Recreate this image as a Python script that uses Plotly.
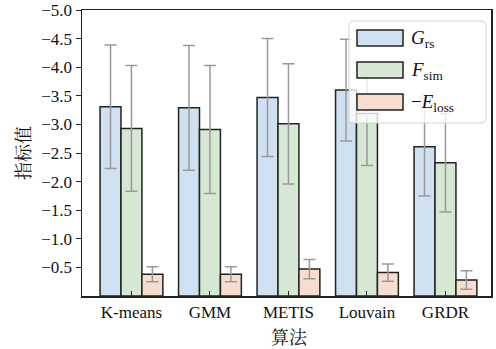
import plotly.graph_objects as go

categories = ["K-means", "GMM", "METIS", "Louvain", "GRDR"]
g_rs = [3.31, 3.29, 3.47, 3.60, 2.61]
g_rs_err = [1.08, 1.09, 1.03, 0.89, 0.86]
f_sim = [2.93, 2.91, 3.01, 3.19, 2.33]
f_sim_err = [1.10, 1.12, 1.05, 0.91, 0.86]
e_loss = [0.38, 0.38, 0.47, 0.41, 0.28]
e_loss_err = [0.13, 0.13, 0.17, 0.15, 0.16]
series_names = ["<i>G</i><sub>rs</sub>", "<i>F</i><sub>sim</sub>", "−<i>E</i><sub>loss</sub>"]
colors = ["#cfe1f0", "#d6e8d3", "#f7ddd0"]
ytick_vals = [0.5, 1.0, 1.5, 2.0, 2.5, 3.0, 3.5, 4.0, 4.5, 5.0]
ytick_text = ["−0.5", "−1.0", "−1.5", "−2.0", "−2.5", "−3.0", "−3.5", "−4.0", "−4.5", "−5.0"]

FONT = "Liberation Serif"
CJK = "Noto Serif CJK SC, Noto Sans CJK SC"
W, H = 496, 349
L, R, T, B = 82, 5, 10, 53
pw, ph = W - L - R, H - T - B

def px_x(x):
    return (x - L) / pw

def px_y(y):
    return (H - B - y) / ph

fig = go.Figure()
for vals, errs, name, col in zip([g_rs, f_sim, e_loss], [g_rs_err, f_sim_err, e_loss_err], series_names, colors):
    fig.add_trace(go.Bar(
        x=categories, y=vals, name=name,
        marker=dict(color=col, line=dict(color="#222222", width=1.5)),
        error_y=dict(type="data", array=errs, visible=True, color="#9a9a9a", thickness=1.5, width=6),
        showlegend=False, hoverinfo="skip",
    ))

shapes = []
annotations = []
x0, x1 = px_x(349), px_x(486)
y0, y1 = px_y(123), px_y(21)
rx, ry = 5 / pw, 5 / ph
path = (f"M {x0+rx},{y1} L {x1-rx},{y1} Q {x1},{y1} {x1},{y1-ry} "
        f"L {x1},{y0+ry} Q {x1},{y0} {x1-rx},{y0} L {x0+rx},{y0} "
        f"Q {x0},{y0} {x0},{y0+ry} L {x0},{y1-ry} Q {x0},{y1} {x0+rx},{y1} Z")
shapes.append(dict(type="path", xref="paper", yref="paper", path=path,
                   fillcolor="rgba(255,255,255,0.8)", line=dict(color="#d4d4d4", width=1), layer="above"))
sw_tops = [30, 62, 94]
for top, col, name in zip(sw_tops, colors, series_names):
    shapes.append(dict(type="rect", xref="paper", yref="paper",
                       x0=px_x(357), x1=px_x(403), y0=px_y(top + 16), y1=px_y(top),
                       fillcolor=col, line=dict(color="#222222", width=1.5), layer="above"))
    annotations.append(dict(xref="paper", yref="paper", x=px_x(409), y=px_y(top + 9),
                            xanchor="left", yanchor="middle", text=name, showarrow=False,
                            font=dict(family=FONT, size=19, color="#111111")))

annotations.append(dict(xref="paper", yref="paper", x=px_x(289), y=px_y(336),
                        xanchor="center", yanchor="middle", text="算法", showarrow=False,
                        font=dict(family=CJK, size=18, color="#111111")))
annotations.append(dict(xref="paper", yref="paper", x=px_x(22), y=px_y(153),
                        xanchor="center", yanchor="middle", text="指标值", showarrow=False,
                        textangle=-90, font=dict(family=CJK, size=18, color="#111111")))

fig.update_layout(
    width=W, height=H, autosize=False,
    margin=dict(l=L, r=R, t=T, b=B),
    barmode="group", bargap=0.2, bargroupgap=0,
    plot_bgcolor="white", paper_bgcolor="white",
    font=dict(family=FONT, size=16, color="#111111"),
    shapes=shapes, annotations=annotations,
    xaxis=dict(
        range=[-0.63, 4.58], showline=True, linecolor="#222222", linewidth=1.5, mirror=True,
        ticks="inside", ticklen=5, tickcolor="#222222", showgrid=False, automargin=False,
        tickfont=dict(family=FONT, size=17, color="#111111"),
    ),
    yaxis=dict(
        range=[0, 5.0], tickvals=ytick_vals, ticktext=ytick_text,
        showline=True, linecolor="#222222", linewidth=1.5, mirror=True,
        ticks="outside", ticklen=5, tickcolor="#222222", showgrid=False, zeroline=False,
        automargin=False, tickfont=dict(family=FONT, size=17, color="#111111"),
    ),
)

fig.write_html(
    "out.html",
    config={"responsive": False, "displayModeBar": False, "staticPlot": True},
    post_script="document.body.style.margin='0px';document.body.style.overflow='hidden';",
)
